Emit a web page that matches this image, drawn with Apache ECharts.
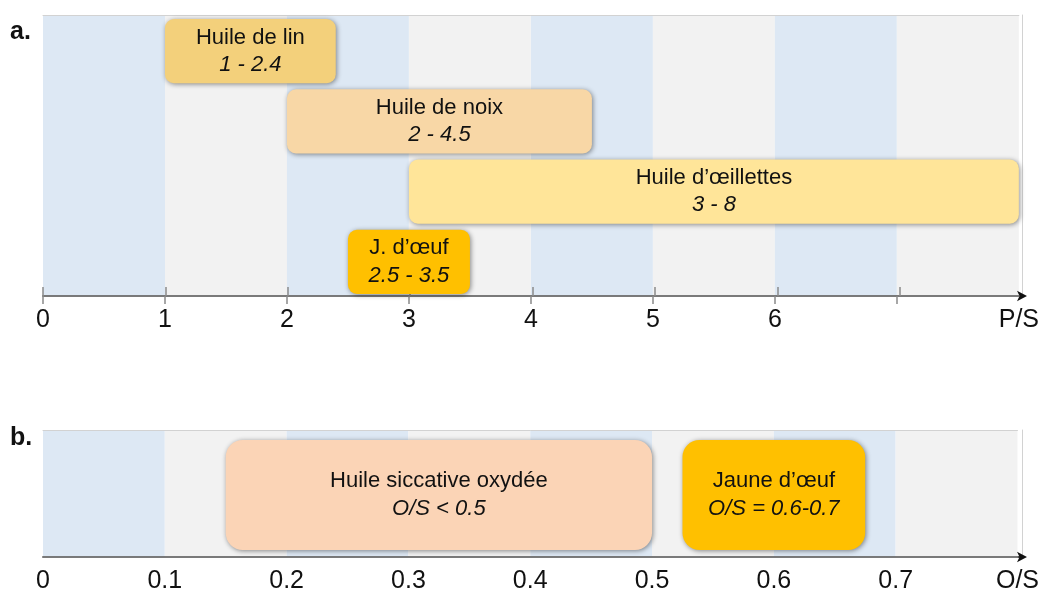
<!DOCTYPE html>
<html>
<head>
<meta charset="utf-8">
<script src="https://cdn.jsdelivr.net/npm/echarts@6/dist/echarts.min.js"></script>
<style>
  html, body { margin: 0; padding: 0; background: #fff; }
  #main { width: 1042px; height: 594px; }
</style>
</head>
<body>
<div id="main"></div>
<script>
// --- données panneau a (P/S)
const psNames = ['Huile de lin', 'Huile de noix', 'Huile d’œillettes', 'J. d’œuf'];
const psLow = [1, 2, 3, 2.5];
const psHigh = [2.4, 4.5, 8, 3.5];
const psRange = ['1 - 2.4', '2 - 4.5', '3 - 8', '2.5 - 3.5'];
const psRow = [0, 1, 2, 3];
const psTickLabels = ['0', '1', '2', '3', '4', '5', '6', '', 'P/S'];
const psTicks = [0, 1, 2, 3, 4, 5, 6, 7];

// --- données panneau b (O/S)
const osNames = ['Huile siccative oxydée', 'Jaune d’œuf'];
const osLow = [0.15, 0.525];
const osHigh = [0.5, 0.675];
const osRange = ['O/S < 0.5', 'O/S = 0.6-0.7'];
const osRow = [0, 0];
const osTickLabels = ['0', '0.1', '0.2', '0.3', '0.4', '0.5', '0.6', '0.7', 'O/S'];

// couleurs
const psColors = ['#f3d07b', '#f8d7a6', '#ffe599', '#ffc000'];
const osColors = ['#fbd4b6', '#ffc000'];
const bandColors = ['#dde8f4', '#f2f2f2'];
const FONT = 'Liberation Sans, Arial, sans-serif';

let mychart = echarts.init(document.getElementById('main'));

// bandes de fond
const psBands = psTicks.map(function (v, i) { return [v, v + 1, i % 2]; });
const osBands = [0, 1, 2, 3, 4, 5, 6, 7].map(function (i) { return [i / 10, (i + 1) / 10, i % 2]; });

function bandItem(rows) {
  return function (params, api) {
    const p0 = api.coord([api.value(0), 0]);
    const p1 = api.coord([api.value(1), rows]);
    return {
      type: 'rect',
      shape: { x: p0[0], y: p0[1], width: p1[0] - p0[0], height: p1[1] - p0[1] },
      style: { fill: bandColors[api.value(2)] }
    };
  };
}

function boxItem(names, ranges, colors, padTop, padBottom, radius, lineH) {
  return function (params, api) {
    const row = api.value(2);
    const p0 = api.coord([api.value(0), row]);
    const p1 = api.coord([api.value(1), row + 1]);
    const x = p0[0], y = p0[1] + padTop;
    const w = p1[0] - p0[0], h = p1[1] - p0[1] - padTop - padBottom;
    const i = params.dataIndex;
    return {
      type: 'group',
      children: [
        {
          type: 'rect',
          shape: { x: x, y: y, width: w, height: h, r: radius },
          style: {
            fill: colors[i],
            shadowBlur: 5, shadowOffsetX: 1, shadowOffsetY: 1,
            shadowColor: 'rgba(0,0,0,0.45)'
          }
        },
        {
          type: 'text',
          style: {
            x: x + w / 2, y: y + h / 2,
            align: 'center', verticalAlign: 'middle',
            text: '{a|' + names[i] + '}\n{b|' + ranges[i] + '}',
            rich: {
              a: { fontFamily: FONT, fontSize: 22, lineHeight: lineH, fill: '#111' },
              b: { fontFamily: FONT, fontSize: 22, lineHeight: lineH, fontStyle: 'italic', fill: '#111' }
            }
          }
        }
      ]
    };
  };
}

const axisGrey = '#8a8a8a';
const borderGrey = '#d2d2d2';

function borderX(grid, max) {
  return {
    gridIndex: grid, type: 'value', min: 0, max: max, position: 'top', z: 5,
    splitLine: { show: false }, axisLabel: { show: false }, axisTick: { show: false },
    axisLine: { show: true, onZero: false, lineStyle: { color: borderGrey, width: 1 } }
  };
}
function borderY(grid, max) {
  return {
    gridIndex: grid, type: 'value', min: 0, max: max, inverse: true, position: 'right', z: 5,
    splitLine: { show: false }, axisLabel: { show: false }, axisTick: { show: false },
    axisLine: { show: true, onZero: false, lineStyle: { color: borderGrey, width: 1 } }
  };
}

var option = {
  animation: false,
  grid: [
    { left: 43, right: 20, top: 15, height: 281 },
    { left: 43, right: 20, top: 430, height: 127 },
    // grilles superposées pour la flèche et les bords
    { left: 43, right: 20, top: 15, height: 281 },
    { left: 43, right: 20, top: 430, height: 127 }
  ],
  graphic: [
    { type: 'text', left: 10, top: 20, style: { text: 'a.', font: 'bold 25px ' + FONT, fill: '#111' } },
    { type: 'text', left: 10, top: 426, style: { text: 'b.', font: 'bold 25px ' + FONT, fill: '#111' } }
  ],
  xAxis: [
    // 0 : panneau a, ligne grise + étiquettes + graduations externes
    {
      gridIndex: 0, type: 'value', min: 0, max: 8, interval: 1, position: 'bottom', z: 6,
      splitLine: { show: false },
      axisLine: { show: true, onZero: false, lineStyle: { color: axisGrey, width: 1.5 } },
      axisTick: { show: true, length: 8, customValues: psTicks, lineStyle: { color: axisGrey, width: 1.5 } },
      axisLabel: {
        margin: 12, fontSize: 25, fontFamily: FONT, color: '#111', showMaxLabel: true, showMinLabel: true,
        formatter: function (v) { return psTickLabels[Math.round(v)]; }
      }
    },
    // 1 : panneau b, ligne grise + étiquettes
    {
      gridIndex: 1, type: 'value', min: 0, max: 0.8, interval: 0.1, position: 'bottom', z: 6,
      splitLine: { show: false }, axisTick: { show: false },
      axisLine: { show: true, onZero: false, lineStyle: { color: axisGrey, width: 1.5 } },
      axisLabel: {
        margin: 12, fontSize: 25, fontFamily: FONT, color: '#111', showMaxLabel: true, showMinLabel: true,
        formatter: function (v) { return osTickLabels[Math.round(v * 10)]; }
      }
    },
    // 2 : panneau a, flèche + graduations internes
    {
      gridIndex: 2, type: 'value', min: 0, max: 8, position: 'bottom', z: 5,
      splitLine: { show: false }, axisLabel: { show: false },
      axisLine: {
        show: true, onZero: false, symbol: ['none', 'arrow'], symbolSize: [8, 10], symbolOffset: [0, 5],
        lineStyle: { color: '#111', width: 1.5 }
      },
      axisTick: { show: true, inside: true, length: 9, customValues: psTicks, lineStyle: { color: axisGrey, width: 1.5 } }
    },
    // 3 : panneau b, flèche
    {
      gridIndex: 3, type: 'value', min: 0, max: 0.8, position: 'bottom', z: 5,
      splitLine: { show: false }, axisLabel: { show: false }, axisTick: { show: false },
      axisLine: {
        show: true, onZero: false, symbol: ['none', 'arrow'], symbolSize: [8, 10], symbolOffset: [0, 5],
        lineStyle: { color: '#111', width: 1.5 }
      }
    },
    borderX(0, 8),
    borderX(1, 0.8)
  ],
  yAxis: [
    { gridIndex: 0, type: 'value', min: 0, max: 4, inverse: true, show: false },
    { gridIndex: 1, type: 'value', min: 0, max: 1, inverse: true, show: false },
    borderY(2, 4),
    borderY(3, 1)
  ],
  series: [
    {
      type: 'custom', xAxisIndex: 0, yAxisIndex: 0, z: 1, silent: true,
      renderItem: bandItem(4), data: psBands
    },
    {
      type: 'custom', xAxisIndex: 1, yAxisIndex: 1, z: 1, silent: true,
      renderItem: bandItem(1), data: osBands
    },
    {
      type: 'custom', xAxisIndex: 0, yAxisIndex: 0, z: 8,
      renderItem: boxItem(psNames, psRange, psColors, 4, 2, 9, 27),
      data: psNames.map(function (n, i) { return [psLow[i], psHigh[i], psRow[i]]; })
    },
    {
      type: 'custom', xAxisIndex: 1, yAxisIndex: 1, z: 8,
      renderItem: boxItem(osNames, osRange, osColors, 10, 7, 17, 28),
      data: osNames.map(function (n, i) { return [osLow[i], osHigh[i], osRow[i]]; })
    }
  ]
};

mychart.setOption(option);

window.addEventListener('resize', () => {
  mychart.resize();
});
</script>
</body>
</html>
